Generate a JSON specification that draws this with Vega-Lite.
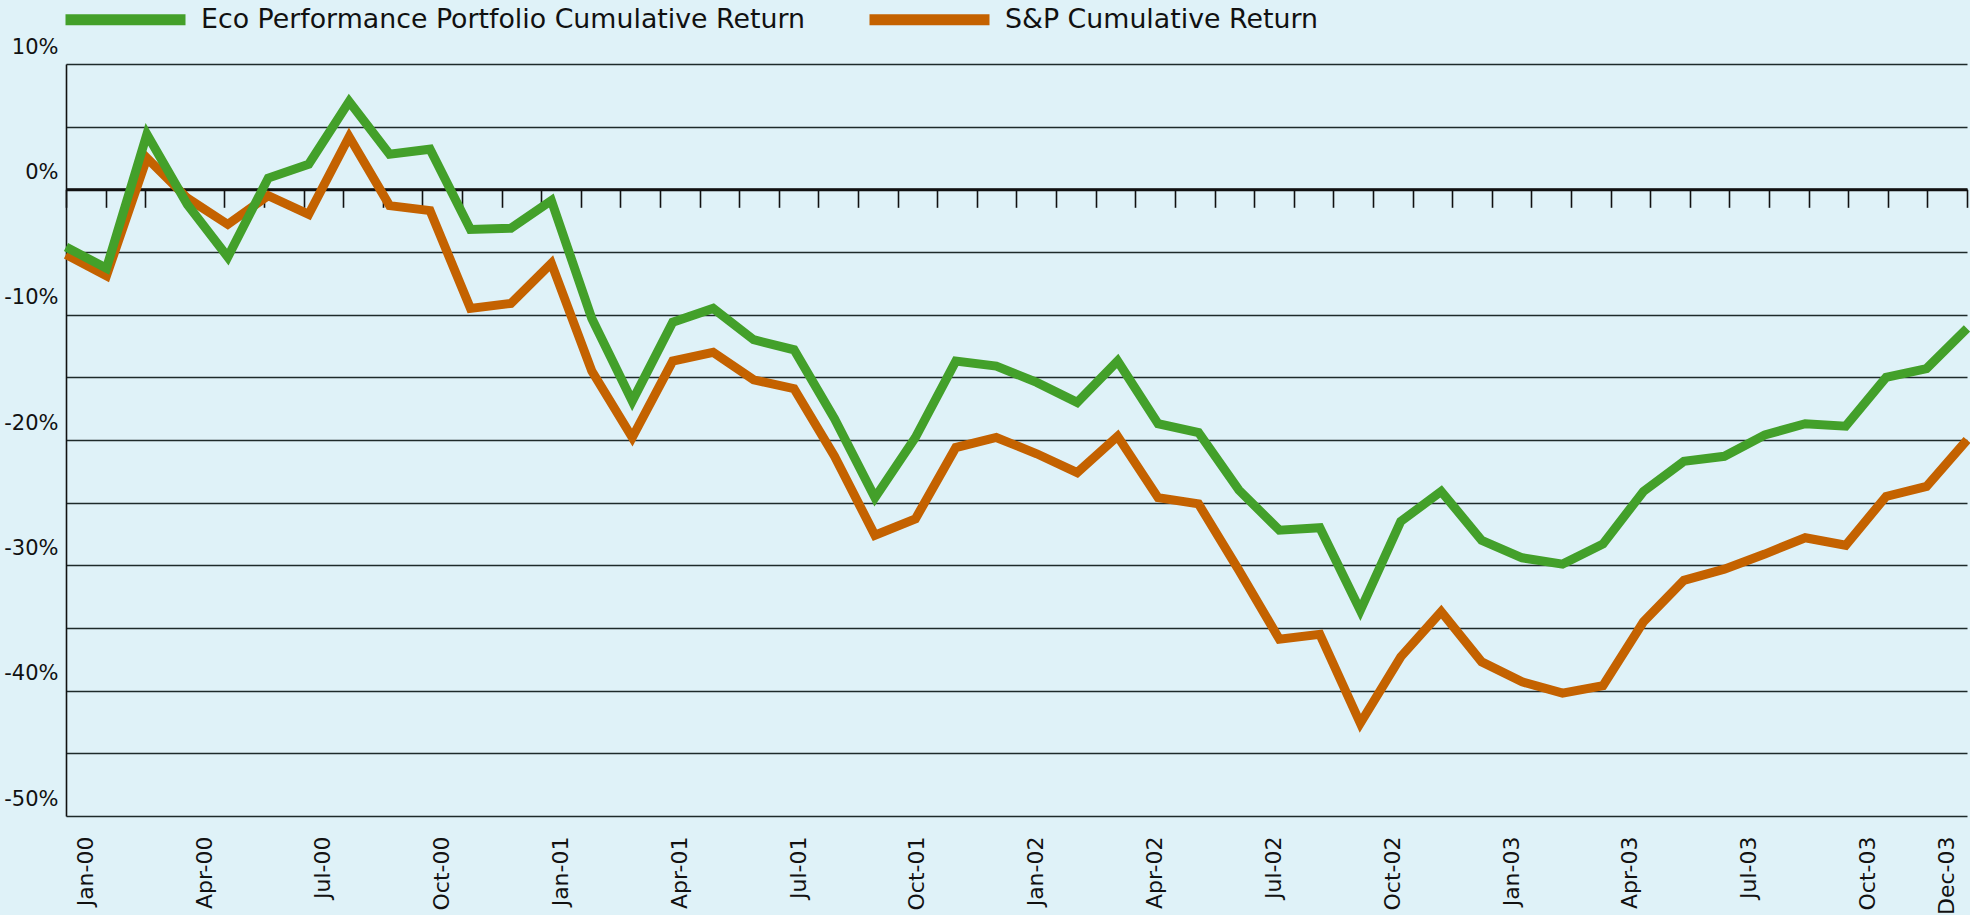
{
  "$schema": "https://vega.github.io/schema/vega-lite/v6.json",
  "autosize": {"type": "none"},
  "padding": {"left": 66, "top": 64, "right": 3, "bottom": 99},
  "width": 1901,
  "height": 752,
  "background": "#DFF2F8",
  "config": {"view": {"stroke": null}},
  "data": {"values": [
    {"month": "Jan-00", "series": "S&P Cumulative Return", "value": -5.2},
    {"month": "Feb-00", "series": "S&P Cumulative Return", "value": -6.9},
    {"month": "Mar-00", "series": "S&P Cumulative Return", "value": 2.5},
    {"month": "Apr-00", "series": "S&P Cumulative Return", "value": -0.7},
    {"month": "May-00", "series": "S&P Cumulative Return", "value": -2.8},
    {"month": "Jun-00", "series": "S&P Cumulative Return", "value": -0.5},
    {"month": "Jul-00", "series": "S&P Cumulative Return", "value": -2.0},
    {"month": "Aug-00", "series": "S&P Cumulative Return", "value": 4.2},
    {"month": "Sep-00", "series": "S&P Cumulative Return", "value": -1.3},
    {"month": "Oct-00", "series": "S&P Cumulative Return", "value": -1.7},
    {"month": "Nov-00", "series": "S&P Cumulative Return", "value": -9.5},
    {"month": "Dec-00", "series": "S&P Cumulative Return", "value": -9.1},
    {"month": "Jan-01", "series": "S&P Cumulative Return", "value": -5.9},
    {"month": "Feb-01", "series": "S&P Cumulative Return", "value": -14.5},
    {"month": "Mar-01", "series": "S&P Cumulative Return", "value": -19.8},
    {"month": "Apr-01", "series": "S&P Cumulative Return", "value": -13.7},
    {"month": "May-01", "series": "S&P Cumulative Return", "value": -13.0},
    {"month": "Jun-01", "series": "S&P Cumulative Return", "value": -15.2},
    {"month": "Jul-01", "series": "S&P Cumulative Return", "value": -15.9},
    {"month": "Aug-01", "series": "S&P Cumulative Return", "value": -21.3},
    {"month": "Sep-01", "series": "S&P Cumulative Return", "value": -27.6},
    {"month": "Oct-01", "series": "S&P Cumulative Return", "value": -26.3},
    {"month": "Nov-01", "series": "S&P Cumulative Return", "value": -20.6},
    {"month": "Dec-01", "series": "S&P Cumulative Return", "value": -19.8},
    {"month": "Jan-02", "series": "S&P Cumulative Return", "value": -21.1},
    {"month": "Feb-02", "series": "S&P Cumulative Return", "value": -22.6},
    {"month": "Mar-02", "series": "S&P Cumulative Return", "value": -19.7},
    {"month": "Apr-02", "series": "S&P Cumulative Return", "value": -24.6},
    {"month": "May-02", "series": "S&P Cumulative Return", "value": -25.1},
    {"month": "Jun-02", "series": "S&P Cumulative Return", "value": -30.4},
    {"month": "Jul-02", "series": "S&P Cumulative Return", "value": -35.9},
    {"month": "Aug-02", "series": "S&P Cumulative Return", "value": -35.5},
    {"month": "Sep-02", "series": "S&P Cumulative Return", "value": -42.6},
    {"month": "Oct-02", "series": "S&P Cumulative Return", "value": -37.3},
    {"month": "Nov-02", "series": "S&P Cumulative Return", "value": -33.7},
    {"month": "Dec-02", "series": "S&P Cumulative Return", "value": -37.7},
    {"month": "Jan-03", "series": "S&P Cumulative Return", "value": -39.3},
    {"month": "Feb-03", "series": "S&P Cumulative Return", "value": -40.2},
    {"month": "Mar-03", "series": "S&P Cumulative Return", "value": -39.6},
    {"month": "Apr-03", "series": "S&P Cumulative Return", "value": -34.5},
    {"month": "May-03", "series": "S&P Cumulative Return", "value": -31.2},
    {"month": "Jun-03", "series": "S&P Cumulative Return", "value": -30.3},
    {"month": "Jul-03", "series": "S&P Cumulative Return", "value": -29.1},
    {"month": "Aug-03", "series": "S&P Cumulative Return", "value": -27.8},
    {"month": "Sep-03", "series": "S&P Cumulative Return", "value": -28.4},
    {"month": "Oct-03", "series": "S&P Cumulative Return", "value": -24.5},
    {"month": "Nov-03", "series": "S&P Cumulative Return", "value": -23.7},
    {"month": "Dec-03", "series": "S&P Cumulative Return", "value": -20.0},
    {"month": "Jan-00", "series": "Eco Performance Portfolio Cumulative Return", "value": -4.6},
    {"month": "Feb-00", "series": "Eco Performance Portfolio Cumulative Return", "value": -6.3},
    {"month": "Mar-00", "series": "Eco Performance Portfolio Cumulative Return", "value": 4.4},
    {"month": "Apr-00", "series": "Eco Performance Portfolio Cumulative Return", "value": -1.2},
    {"month": "May-00", "series": "Eco Performance Portfolio Cumulative Return", "value": -5.4},
    {"month": "Jun-00", "series": "Eco Performance Portfolio Cumulative Return", "value": 0.9},
    {"month": "Jul-00", "series": "Eco Performance Portfolio Cumulative Return", "value": 2.0},
    {"month": "Aug-00", "series": "Eco Performance Portfolio Cumulative Return", "value": 7.0},
    {"month": "Sep-00", "series": "Eco Performance Portfolio Cumulative Return", "value": 2.8},
    {"month": "Oct-00", "series": "Eco Performance Portfolio Cumulative Return", "value": 3.2},
    {"month": "Nov-00", "series": "Eco Performance Portfolio Cumulative Return", "value": -3.2},
    {"month": "Dec-00", "series": "Eco Performance Portfolio Cumulative Return", "value": -3.1},
    {"month": "Jan-01", "series": "Eco Performance Portfolio Cumulative Return", "value": -0.9},
    {"month": "Feb-01", "series": "Eco Performance Portfolio Cumulative Return", "value": -10.3},
    {"month": "Mar-01", "series": "Eco Performance Portfolio Cumulative Return", "value": -16.9},
    {"month": "Apr-01", "series": "Eco Performance Portfolio Cumulative Return", "value": -10.6},
    {"month": "May-01", "series": "Eco Performance Portfolio Cumulative Return", "value": -9.5},
    {"month": "Jun-01", "series": "Eco Performance Portfolio Cumulative Return", "value": -12.0},
    {"month": "Jul-01", "series": "Eco Performance Portfolio Cumulative Return", "value": -12.8},
    {"month": "Aug-01", "series": "Eco Performance Portfolio Cumulative Return", "value": -18.3},
    {"month": "Sep-01", "series": "Eco Performance Portfolio Cumulative Return", "value": -24.6},
    {"month": "Oct-01", "series": "Eco Performance Portfolio Cumulative Return", "value": -19.8},
    {"month": "Nov-01", "series": "Eco Performance Portfolio Cumulative Return", "value": -13.7},
    {"month": "Dec-01", "series": "Eco Performance Portfolio Cumulative Return", "value": -14.1},
    {"month": "Jan-02", "series": "Eco Performance Portfolio Cumulative Return", "value": -15.4},
    {"month": "Feb-02", "series": "Eco Performance Portfolio Cumulative Return", "value": -17.0},
    {"month": "Mar-02", "series": "Eco Performance Portfolio Cumulative Return", "value": -13.7},
    {"month": "Apr-02", "series": "Eco Performance Portfolio Cumulative Return", "value": -18.7},
    {"month": "May-02", "series": "Eco Performance Portfolio Cumulative Return", "value": -19.4},
    {"month": "Jun-02", "series": "Eco Performance Portfolio Cumulative Return", "value": -24.0},
    {"month": "Jul-02", "series": "Eco Performance Portfolio Cumulative Return", "value": -27.2},
    {"month": "Aug-02", "series": "Eco Performance Portfolio Cumulative Return", "value": -27.0},
    {"month": "Sep-02", "series": "Eco Performance Portfolio Cumulative Return", "value": -33.6},
    {"month": "Oct-02", "series": "Eco Performance Portfolio Cumulative Return", "value": -26.5},
    {"month": "Nov-02", "series": "Eco Performance Portfolio Cumulative Return", "value": -24.1},
    {"month": "Dec-02", "series": "Eco Performance Portfolio Cumulative Return", "value": -28.0},
    {"month": "Jan-03", "series": "Eco Performance Portfolio Cumulative Return", "value": -29.4},
    {"month": "Feb-03", "series": "Eco Performance Portfolio Cumulative Return", "value": -29.9},
    {"month": "Mar-03", "series": "Eco Performance Portfolio Cumulative Return", "value": -28.3},
    {"month": "Apr-03", "series": "Eco Performance Portfolio Cumulative Return", "value": -24.1},
    {"month": "May-03", "series": "Eco Performance Portfolio Cumulative Return", "value": -21.7},
    {"month": "Jun-03", "series": "Eco Performance Portfolio Cumulative Return", "value": -21.3},
    {"month": "Jul-03", "series": "Eco Performance Portfolio Cumulative Return", "value": -19.6},
    {"month": "Aug-03", "series": "Eco Performance Portfolio Cumulative Return", "value": -18.7},
    {"month": "Sep-03", "series": "Eco Performance Portfolio Cumulative Return", "value": -18.9},
    {"month": "Oct-03", "series": "Eco Performance Portfolio Cumulative Return", "value": -15.0},
    {"month": "Nov-03", "series": "Eco Performance Portfolio Cumulative Return", "value": -14.3},
    {"month": "Dec-03", "series": "Eco Performance Portfolio Cumulative Return", "value": -11.1}
  ]},
  "resolve": {"scale": {"x": "independent"}},
  "layer": [
    {
      "mark": {"type": "line", "strokeWidth": 9, "strokeJoin": "miter", "strokeCap": "butt"},
      "encoding": {
        "x": {"field": "month", "type": "ordinal", "sort": null, "scale": {"type": "point", "padding": 0}, "axis": null},
        "y": {
          "field": "value", "type": "quantitative",
          "scale": {"domain": [-50, 10], "nice": false, "zero": false},
          "axis": {
            "title": null,
            "values": [10, 5, 0, -5, -10, -15, -20, -25, -30, -35, -40, -45, -50],
            "labelExpr": "datum.value % 10 == 0 ? datum.value + '%' : ''",
            "grid": true, "gridColor": "#1e2a2a", "gridWidth": 1.6, "gridOpacity": 1,
            "ticks": false,
            "domain": true, "domainColor": "#111", "domainWidth": 1.6,
            "labelFont": "DejaVu Sans", "labelFontSize": 21, "labelColor": "#111",
            "labelPadding": 8, "labelOffset": -17, "labelOverlap": false, "labelBound": false
          }
        },
        "color": {
          "field": "series", "type": "nominal",
          "scale": {"domain": ["Eco Performance Portfolio Cumulative Return", "S&P Cumulative Return"], "range": ["#43A02A", "#C46200"]},
          "legend": {
            "title": null, "orient": "none", "direction": "horizontal",
            "legendX": -6, "legendY": -110,
            "symbolType": "stroke", "symbolSize": 14400, "symbolStrokeWidth": 11,
            "labelFont": "DejaVu Sans", "labelFontSize": 26.8, "labelColor": "#111",
            "labelOffset": 10, "columnPadding": 41, "padding": 0, "labelLimit": 1000
          }
        }
      }
    },
    {
      "mark": {"type": "point", "opacity": 0},
      "encoding": {
        "x": {
          "field": "month", "type": "ordinal", "sort": null,
          "scale": {"type": "band", "paddingInner": 0, "paddingOuter": 0},
          "axis": {
            "orient": "bottom", "title": null, "ticks": false, "domain": false, "grid": false,
            "labelAngle": -90, "labelAlign": "right", "labelBaseline": "middle",
            "labelPadding": 20, "labelFont": "DejaVu Sans", "labelFontSize": 22, "labelColor": "#111",
            "labelOverlap": false, "labelBound": false,
            "labelExpr": "indexof(['Jan','Apr','Jul','Oct'], substring(datum.value, 0, 3)) >= 0 || datum.value == 'Dec-03' ? datum.value : ''"
          }
        }
      }
    },
    {
      "mark": {"type": "point", "opacity": 0},
      "encoding": {
        "x": {
          "field": "month", "type": "ordinal", "sort": null,
          "scale": {"type": "band", "paddingInner": 0, "paddingOuter": 0},
          "axis": {
            "orient": "bottom", "title": null, "labels": false, "grid": false,
            "offset": -626.7,
            "ticks": true, "tickBand": "extent", "tickSize": 18, "tickWidth": 1.6, "tickColor": "#111",
            "domain": true, "domainColor": "#111", "domainWidth": 3
          }
        }
      }
    }
  ]
}
